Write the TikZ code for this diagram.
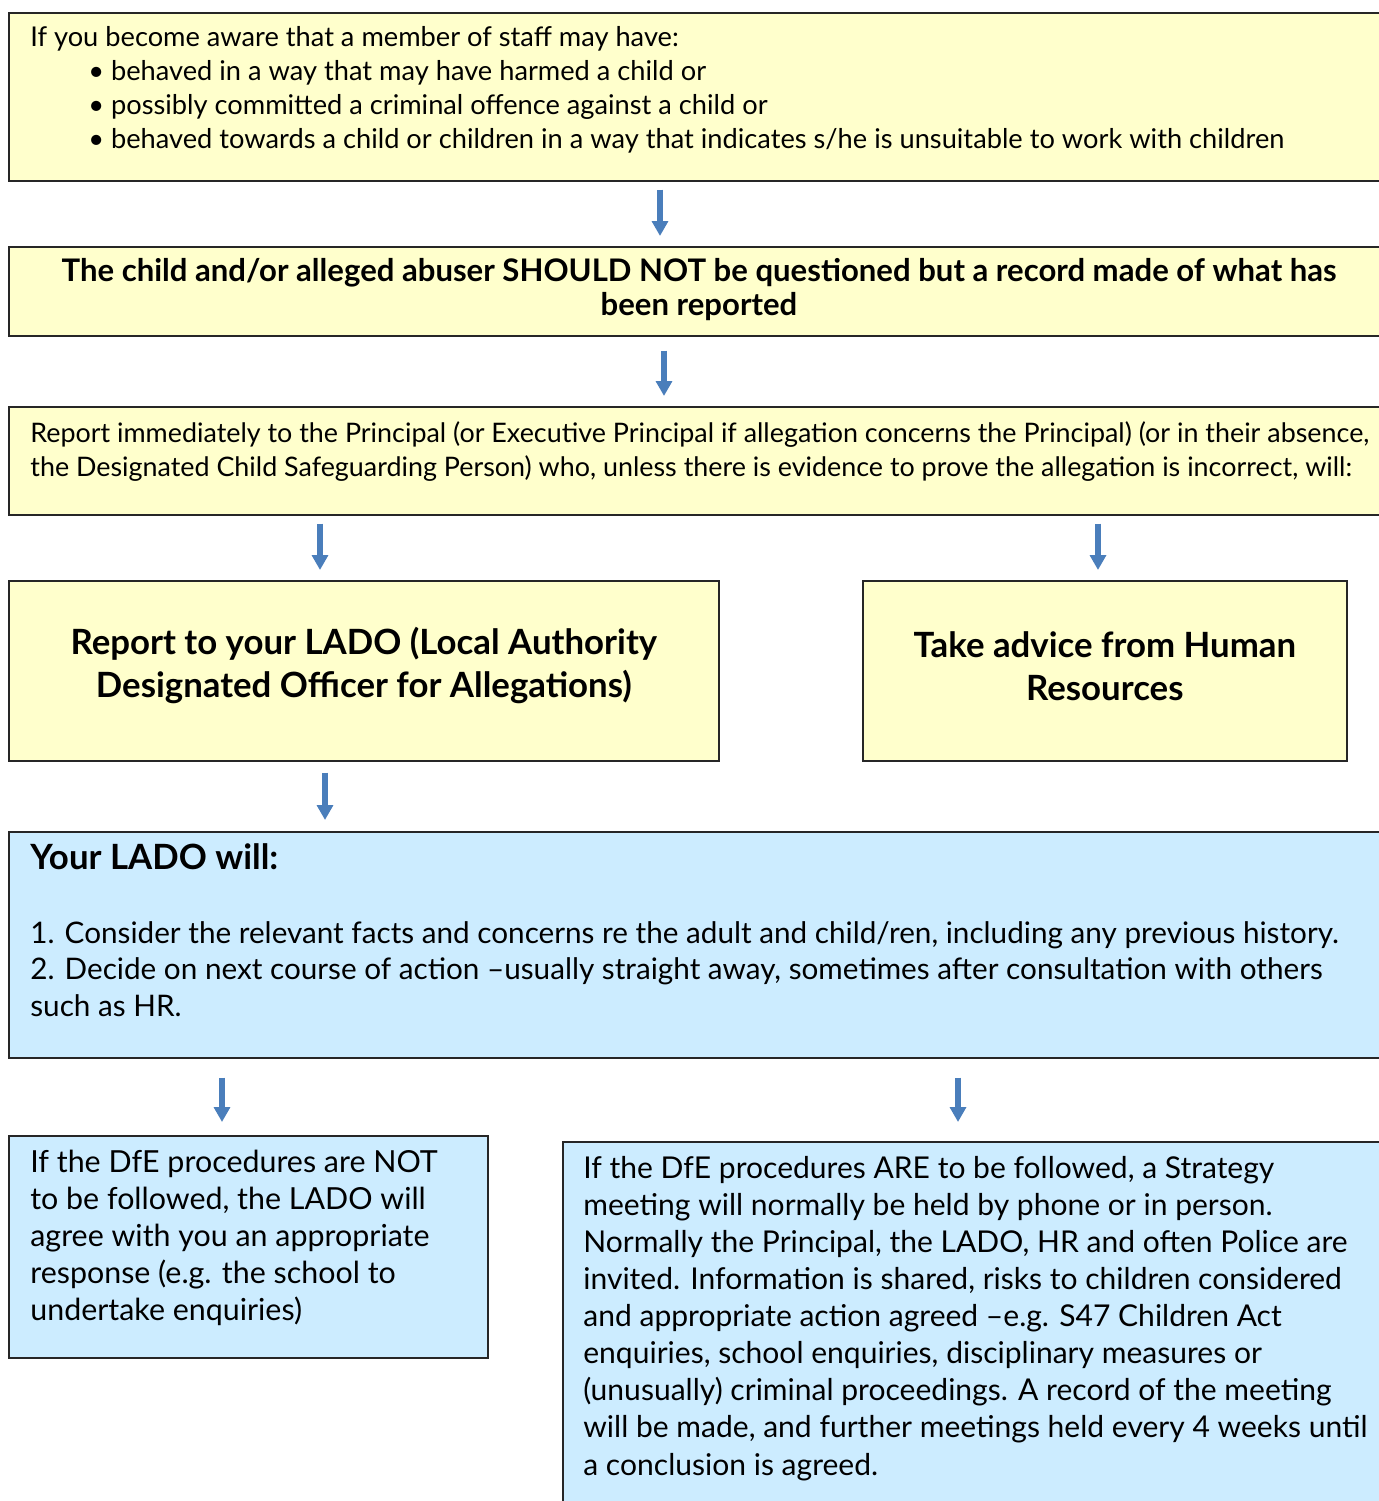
\documentclass[tikz,border=0pt]{standalone}
\usepackage{fontspec}
\setmainfont{Lato}
\usetikzlibrary{arrows.meta,calc}

\definecolor{boxyellow}{HTML}{FFFFCC}
\definecolor{boxblue}{HTML}{CCECFF}
\definecolor{arrowblue}{HTML}{4A7EBB}

\newcommand{\fsTop}{\fontsize{15.5pt}{19.3pt}\selectfont}
\newcommand{\fsRule}{\fontsize{17.7pt}{19.3pt}\selectfont\bfseries}
\newcommand{\fsReport}{\fontsize{15.3pt}{19.3pt}\selectfont}
\newcommand{\fsAction}{\fontsize{19.8pt}{24.4pt}\selectfont\bfseries}
\newcommand{\fsLado}{\fontsize{16.9pt}{21pt}\selectfont}
\newcommand{\fsNotDfe}{\fontsize{17.3pt}{21pt}\selectfont}
\newcommand{\fsDfe}{\fontsize{17.1pt}{21.1pt}\selectfont}

\tikzset{
  box/.style={draw=black!85, line width=1pt, inner sep=0pt, anchor=north west},
  ybox/.style={box, fill=boxyellow},
  bbox/.style={box, fill=boxblue},
  txt/.style={inner sep=0pt, align=left, anchor=north west},
  arr/.style={draw=arrowblue, line width=3.3pt, -{Triangle[width=9pt,length=8.5pt]}},
}

\begin{document}
\begin{tikzpicture}[x=0.02cm, y=-0.02cm]
  \useasboundingbox (0,0) rectangle (1379,1501);
  % boxes
  \node[ybox, minimum width=27.64cm, minimum height=3.36cm] (aware) at (8,12) {};
  \node[ybox, minimum width=27.64cm, minimum height=1.78cm] (record) at (8,246) {};
  \node[ybox, minimum width=27.64cm, minimum height=2.16cm] (principal) at (8,406) {};
  \node[ybox, minimum width=14.2cm, minimum height=3.6cm] (lado) at (8,580) {};
  \node[ybox, minimum width=9.68cm, minimum height=3.6cm] (hr) at (862,580) {};
  \node[bbox, minimum width=27.64cm, minimum height=4.52cm] (ladowill) at (8,831) {};
  \node[bbox, minimum width=9.58cm, minimum height=4.44cm] (notdfe) at (8,1135) {};
  \node[bbox, minimum width=16.56cm, minimum height=7.6cm] (dfe) at (562,1141) {};

  % texts
  \node[txt, font=\fsTop] (awaretxt) at (30,26) {If you become aware that a member of staff may have:\\
    \hspace*{1.16cm}\textbullet\ behaved in a way that may have harmed a child or\\
    \hspace*{1.16cm}\textbullet\ possibly committed a criminal offence against a child or\\
    \hspace*{1.16cm}\textbullet\ behaved towards a child or children in a way that indicates s/he is unsuitable to work with children};
  \node[txt, font=\fsRule, align=center, anchor=north] (recordtxt) at (699,258) {The child and/or alleged abuser SHOULD NOT be questioned but a record made of what has\\
    been reported};
  \node[txt, font=\fsReport] (principaltxt) at (30,421) {Report immediately to the Principal (or Executive Principal if allegation concerns the Principal) (or in their absence,\\
    the Designated Child Safeguarding Person) who, unless there is evidence to prove the allegation is incorrect, will:};
  \node[txt, font=\fsAction, align=center, anchor=center] (ladotxt) at ($(lado.center)+(0,-5)$) {Report to your LADO (Local Authority\\
    Designated Officer for Allegations)};
  \node[txt, font=\fsAction, align=center, anchor=center] (hrtxt) at ($(hr.center)+(0,-5)$) {Take advice from Human\\
    Resources};
  \node[txt, font=\fsLado] (ladowilltxt) at (30,843) {{\fsAction Your LADO will:}\\[21pt]
    1. Consider the relevant facts and concerns re the adult and child/ren, including any previous history.\\
    2. Decide on next course of action --usually straight away, sometimes after consultation with others\\
    such as HR.};
  \node[txt, font=\fsNotDfe] (notdfetxt) at (30,1150) {If the DfE procedures are NOT\\
    to be followed, the LADO will\\
    agree with you an appropriate\\
    response (e.g. the school to\\
    undertake enquiries)};
  \node[txt, font=\fsDfe] (dfetxt) at (583,1156) {If the DfE procedures ARE to be followed, a Strategy\\
    meeting will normally be held by phone or in person.\\
    Normally the Principal, the LADO, HR and often Police are\\
    invited. Information is shared, risks to children considered\\
    and appropriate action agreed --e.g. S47 Children Act\\
    enquiries, school enquiries, disciplinary measures or\\
    (unusually) criminal proceedings. A record of the meeting\\
    will be made, and further meetings held every 4 weeks until\\
    a conclusion is agreed.};

  % arrows
  \draw[arr, shorten <=0.16cm, shorten >=0.2cm] (aware.south -| 660,0) -- (record.north -| 660,0);
  \draw[arr, shorten <=0.28cm, shorten >=0.2cm] (record.south -| 664,0) -- (principal.north -| 664,0);
  \draw[arr, shorten <=0.16cm, shorten >=0.2cm] (principal.south -| 320,0) -- (lado.north -| 320,0);
  \draw[arr, shorten <=0.16cm, shorten >=0.2cm] (principal.south -| 1098,0) -- (hr.north -| 1098,0);
  \draw[arr, shorten <=0.22cm, shorten >=0.22cm] (lado.south -| 325,0) -- (ladowill.north -| 325,0);
  \draw[arr, shorten <=0.38cm, shorten >=0.26cm] (ladowill.south -| 222,0) -- (notdfe.north -| 222,0);
  \draw[arr, shorten <=0.38cm, shorten >=0.38cm] (ladowill.south -| 958,0) -- (dfe.north -| 958,0);
\end{tikzpicture}
\end{document}
